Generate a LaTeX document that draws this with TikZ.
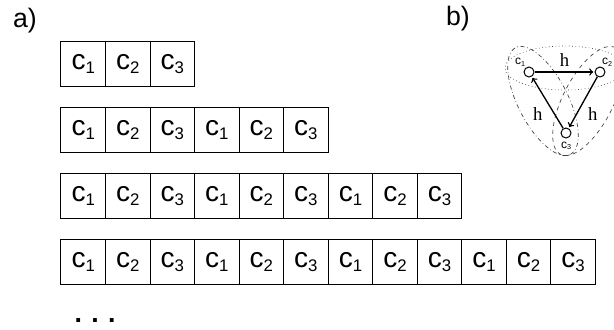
\documentclass[tikz,border=0pt]{standalone}
\usepackage{fontspec}
\setmainfont{Liberation Sans}
\newfontfamily\serifh{Liberation Serif}
\usetikzlibrary{positioning,arrows}

\newcommand{\cidx}[1]{c\raisebox{-0.13em}{\scalebox{0.6}{#1}}}

\begin{document}
\begin{tikzpicture}[x=0.75pt, y=-0.75pt, >=to, node distance=0pt,
    cell/.style={draw, line width=0.75pt, minimum width=33.4pt, minimum height=33.4pt,
      inner sep=0pt, outer sep=0pt, font=\fontsize{21}{24}\selectfont},
    tag/.style={font=\fontsize{20}{24}\selectfont},
    vert/.style={circle, draw, line width=0.75pt, minimum size=7.5pt, inner sep=0pt},
    vlabel/.style={font=\fontsize{9}{10}\selectfont, inner sep=0pt},
    hull/.style={line width=0.5pt, gray!50!black}]
    \useasboundingbox (0,0) rectangle (614,329);

    % part a
    \node[tag] (taga) at (25,21) {a)};
    \foreach \row/\n in {1/3,2/6,3/9,4/12} {
        \node[cell] (r\row-1) at (83.25, {64.25+66*(\row-1)}) {\cidx{1}};
        \foreach \i in {2,...,\n} {
            \pgfmathtruncatemacro\prev{\i-1}
            \pgfmathtruncatemacro\k{mod(\i-1,3)+1}
            \node[cell, right=of r\row-\prev] (r\row-\i) {\cidx{\k}};
        }
    }
    \node[font=\fontsize{20}{24}\selectfont\bfseries, inner sep=0pt] (dots) at (95,321) {.\hspace{7pt}.\hspace{7pt}.};

    % part b
    \node[tag] (tagb) at (458,19) {b)};
    \draw[hull, dotted] (565,68) ellipse [x radius=45pt, y radius=16.5pt];
    \draw[hull, dash dot, rotate around={-62.8:(543,101)}] (543,101) ellipse [x radius=45pt, y radius=18.75pt];
    \draw[hull, dashed, rotate around={62.8:(588,101)}] (588,101) ellipse [x radius=45pt, y radius=18.75pt];
    \node[vert] (c1) at (529,72) {};
    \node[vert] (c2) at (600,72) {};
    \node[vert] (c3) at (566,133) {};
    \node[vlabel] (l1) at (520,62) {\cidx{1}};
    \node[vlabel] (l2) at (607,62) {\cidx{2}};
    \node[vlabel] (l3) at (566,146) {\cidx{3}};
    \path[->, line width=1pt, shorten >=1pt, auto, font=\serifh\fontsize{14}{14}\selectfont]
    (c1) edge node {h} (c2)
    (c2) edge node {h} (c3)
    (c3) edge node {h} (c1)
    ;
\end{tikzpicture}
\end{document}
